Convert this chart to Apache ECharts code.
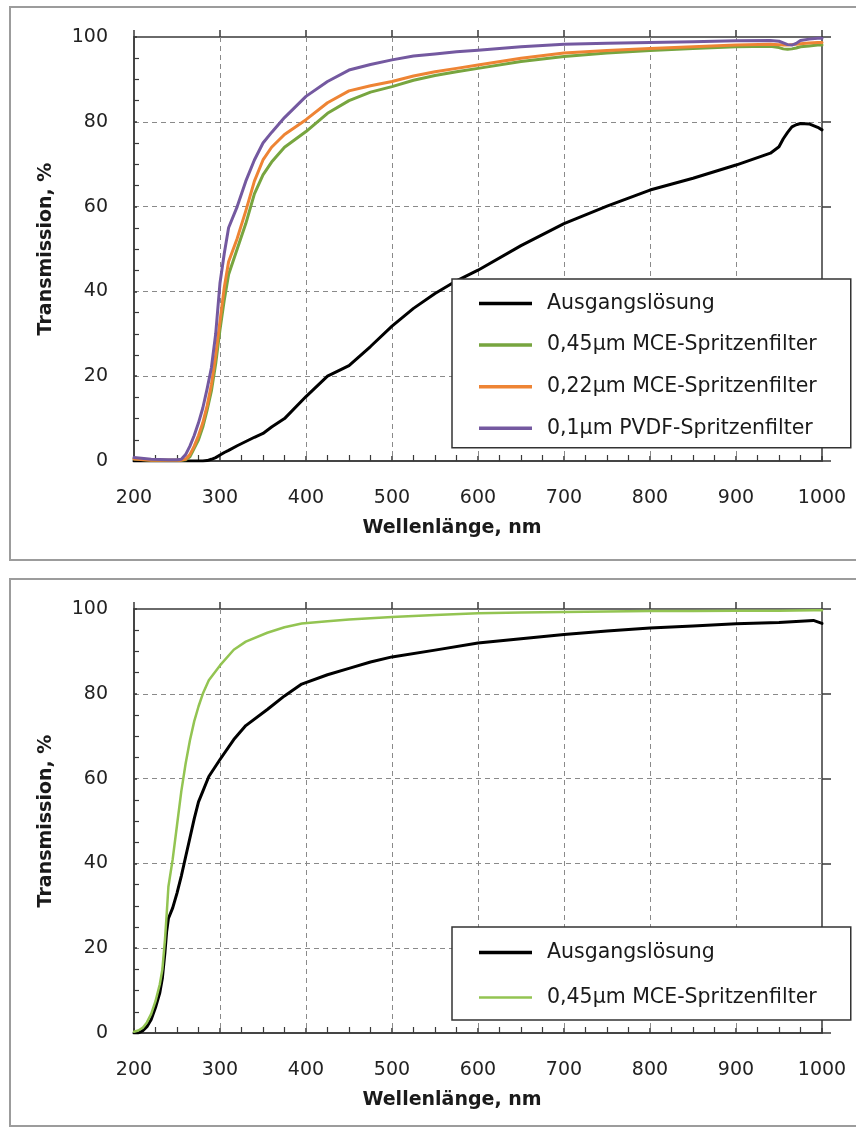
<!DOCTYPE html>
<html>
<head>
<meta charset="utf-8">
<script src="https://cdn.jsdelivr.net/npm/echarts@6/dist/echarts.min.js"></script>
<style>
  html, body { margin: 0; padding: 0; background: #fff; }
  #chart { width: 856px; height: 1128px; }
</style>
</head>
<body>
<div id="chart"></div>
<script>
// Upper panel: transmission spectra of the stock solution and the three filtrates
const topWavelength = [200, 220, 240, 250, 255, 260, 265, 270, 275, 280, 285, 290, 295, 300, 305,
  310, 320, 330, 340, 350, 360, 375, 400, 425, 450, 475, 500, 525, 550, 575,
  600, 650, 700, 750, 800, 850, 900, 940, 950, 955, 960, 965, 970, 975, 985, 995, 1000];
const topAusgang = [0, 0, 0, 0, 0, 0, 0, 0, 0, 0, 0.1, 0.4, 0.8, 1.4, 2,
  2.5, 3.6, 4.6, 5.6, 6.5, 8, 10, 15.2, 20, 22.5, 27, 31.8, 36, 39.5, 42.5,
  45, 50.8, 56, 60.1, 63.9, 66.7, 69.8, 72.6, 74.1, 76, 77.5, 78.8, 79.3, 79.6, 79.5, 78.7, 78.1];
const topMce045 = [0.5, 0.2, 0.2, 0.2, 0.2, 0.3, 1, 3, 5, 8, 12, 16.5, 23, 31, 38,
  44, 50, 56, 63, 67.5, 70.5, 74, 77.7, 82, 85, 87, 88.3, 89.8, 90.9, 91.8,
  92.6, 94.2, 95.4, 96.2, 96.8, 97.3, 97.7, 97.8, 97.5, 97.2, 97.1, 97.2, 97.4, 97.7, 97.9, 98.1, 98.1];
const topMce022 = [0.5, 0.2, 0.2, 0.2, 0.2, 0.4, 1.5, 3.5, 6, 9, 13, 18, 25, 33, 41,
  47, 52.5, 59, 66, 71, 74, 77, 80.5, 84.5, 87.3, 88.5, 89.5, 90.8, 91.8, 92.6,
  93.4, 95, 96.2, 96.8, 97.3, 97.7, 98.1, 98.3, 98.2, 98.1, 98.1, 98.2, 98.3, 98.4, 98.6, 98.7, 98.7];
const topPvdf01 = [0.8, 0.4, 0.3, 0.3, 0.4, 1.5, 3.5, 6, 9, 12.5, 17, 22, 30, 42, 49,
  55, 60, 66, 71, 75, 77.5, 81, 86, 89.5, 92.2, 93.5, 94.6, 95.5, 96, 96.5,
  96.9, 97.7, 98.3, 98.5, 98.7, 98.9, 99.1, 99.2, 99, 98.6, 98.2, 98.1, 98.5, 99.2, 99.5, 99.7, 99.7];

// Lower panel: stock solution vs. 0.45 µm MCE filtrate
const botWavelength = [200, 205, 210, 215, 220, 225, 230, 233, 236, 238, 240, 245, 250, 255, 260,
  265, 270, 275, 280, 287, 300, 316, 330, 355, 375, 395, 425, 450, 475, 500,
  550, 600, 650, 700, 750, 800, 850, 900, 950, 990, 1000];
const botAusgang = [0, 0, 0.5, 1.5, 3.2, 6, 9.5, 13, 19, 24, 27, 29.5, 33, 37, 41.5,
  46, 50.5, 54.5, 57, 60.5, 64.5, 69.2, 72.5, 76.3, 79.5, 82.3, 84.5, 86, 87.5, 88.7,
  90.3, 92, 93, 94, 94.8, 95.5, 96, 96.5, 96.8, 97.3, 96.6];
const botMce045 = [0.3, 0.6, 1.2, 2.5, 4.5, 7.5, 11.5, 15, 22, 28, 34.5, 41, 49, 57, 63.5,
  69, 73.5, 77, 80, 83.2, 86.7, 90.4, 92.3, 94.4, 95.7, 96.6, 97.1, 97.5, 97.8, 98.1,
  98.6, 99, 99.2, 99.3, 99.4, 99.5, 99.5, 99.6, 99.6, 99.7, 99.7];

const NAME_STOCK = 'Ausgangslösung';
const NAME_045 = '0,45µm MCE-Spritzenfilter';
const NAME_022 = '0,22µm MCE-Spritzenfilter';
const NAME_01 = '0,1µm PVDF-Spritzenfilter';

const COLORS = {
  stock: '#000000',
  mce045: '#77a53f',
  mce022: '#ee8434',
  pvdf01: '#7459a0',
  mce045Light: '#93c452'
};

const FONT = 'DejaVu Sans';
const AXIS_COLOR = '#3a3a3a';

// legend swatches: flat bars whose aspect ratio is kept inside the item box
const ICON_THICK = 'path://M0,0H53V3.5H0Z';
const ICON_THIN = 'path://M0,0H53V2.5H0Z';

const pairs = (xs, ys) => xs.map((x, i) => [x, ys[i]]);

function mainX(gridIndex) {
  return {
    type: 'value', gridIndex, min: 200, max: 1000, interval: 100,
    name: 'Wellenlänge, nm', nameLocation: 'middle', nameGap: 58,
    nameTextStyle: { fontFamily: FONT, fontWeight: 'bold', fontSize: 19, color: '#1a1a1a', padding: [0, 52, 0, 0] },
    axisLine: { show: true, onZero: false, lineStyle: { color: AXIS_COLOR, width: 1.5 } },
    axisTick: { show: true, inside: true, length: 5, lineStyle: { color: AXIS_COLOR, width: 1.5 } },
    minorTick: { show: true, splitNumber: 4, length: 6, lineStyle: { color: AXIS_COLOR, width: 1.2 } },
    axisLabel: { fontFamily: FONT, fontSize: 19, color: '#222', margin: 28, formatter: v => String(v) },
    splitLine: { show: true, showMinLine: false, showMaxLine: false,
      lineStyle: { color: '#8a8a8a', width: 1, type: [5, 4] } }
  };
}
function tickX(gridIndex) {
  return {
    type: 'value', gridIndex, min: 200, max: 1000, interval: 100,
    axisLine: { show: false, onZero: false },
    axisTick: { show: true, inside: false, length: 7, lineStyle: { color: AXIS_COLOR, width: 1.5 } },
    axisLabel: { show: false }, splitLine: { show: false }
  };
}
function mainY(gridIndex) {
  return {
    type: 'value', gridIndex, min: 0, max: 100, interval: 20,
    name: 'Transmission, %', nameLocation: 'middle', nameGap: 78, nameRotate: 90,
    nameTextStyle: { fontFamily: FONT, fontWeight: 'bold', fontSize: 19, color: '#1a1a1a' },
    axisLine: { show: true, onZero: false, lineStyle: { color: AXIS_COLOR, width: 1.5 } },
    axisTick: { show: true, inside: true, length: 3, lineStyle: { color: AXIS_COLOR, width: 1.5 } },
    minorTick: { show: true, splitNumber: 4, length: 5, lineStyle: { color: AXIS_COLOR, width: 1.2 } },
    axisLabel: { fontFamily: FONT, fontSize: 19, color: '#222', margin: 26 },
    splitLine: { show: true, showMinLine: false, showMaxLine: false,
      lineStyle: { color: '#8a8a8a', width: 1, type: [5, 4] } }
  };
}
function tickY(gridIndex) {
  return {
    type: 'value', gridIndex, min: 0, max: 100, interval: 20,
    axisLine: { show: false, onZero: false },
    axisTick: { show: true, inside: false, length: 9, lineStyle: { color: AXIS_COLOR, width: 1.5 } },
    axisLabel: { show: false }, splitLine: { show: false }
  };
}

function lineSeries(name, xIndex, yIndex, data, color, width) {
  return {
    type: 'line', name, xAxisIndex: xIndex, yAxisIndex: yIndex, data,
    symbol: 'none', smooth: false, silent: true,
    lineStyle: { color, width, join: 'round', cap: 'round' },
    itemStyle: { color }
  };
}

const legendText = { fontFamily: FONT, fontSize: 20.5, color: '#1a1a1a', width: 265, padding: [0, 0, 0, 10], lineHeight: 20 };

function legendItem(name, color, icon) {
  return { name, icon, itemStyle: { color, borderWidth: 0 } };
}

const chart = echarts.init(document.getElementById('chart'), null, { renderer: 'canvas' });
chart.setOption({
  animation: false,
  backgroundColor: '#ffffff',
  graphic: [
    { type: 'rect', shape: { x: 10, y: 7, width: 880, height: 553 }, style: { fill: 'none', stroke: '#9c9c9c', lineWidth: 2 }, z: -10 },
    { type: 'rect', shape: { x: 10, y: 579, width: 880, height: 547 }, style: { fill: 'none', stroke: '#9c9c9c', lineWidth: 2 }, z: -10 }
  ],
  grid: [
    { left: 134, top: 37, width: 688, height: 424, show: true, borderColor: AXIS_COLOR, borderWidth: 1.5, backgroundColor: 'transparent' },
    { left: 134, top: 609, width: 688, height: 424, show: true, borderColor: AXIS_COLOR, borderWidth: 1.5, backgroundColor: 'transparent' }
  ],
  xAxis: [mainX(0), tickX(0), mainX(1), tickX(1)],
  yAxis: [mainY(0), tickY(0), mainY(1), tickY(1)],
  legend: [
    {
      left: 452, top: 279, orient: 'vertical', selectedMode: false,
      padding: [14, 34, 9, 27], itemGap: 20.6, itemWidth: 53, itemHeight: 14,
      backgroundColor: '#fff', borderColor: '#333', borderWidth: 1.5,
      textStyle: legendText,
      data: [
        legendItem(NAME_STOCK, COLORS.stock, ICON_THICK),
        legendItem(NAME_045, COLORS.mce045, ICON_THICK),
        legendItem(NAME_022, COLORS.mce022, ICON_THICK),
        legendItem(NAME_01, COLORS.pvdf01, ICON_THICK)
      ]
    },
    {
      left: 452, top: 927, orient: 'vertical', selectedMode: false,
      padding: [15, 34, 12, 27], itemGap: 24, itemWidth: 53, itemHeight: 14,
      backgroundColor: '#fff', borderColor: '#333', borderWidth: 1.5,
      textStyle: legendText,
      data: [
        legendItem(NAME_STOCK, COLORS.stock, ICON_THICK),
        legendItem(NAME_045, COLORS.mce045Light, ICON_THIN)
      ]
    }
  ],
  series: [
    lineSeries(NAME_STOCK, 0, 0, pairs(topWavelength, topAusgang), COLORS.stock, 3),
    lineSeries(NAME_045, 0, 0, pairs(topWavelength, topMce045), COLORS.mce045, 3),
    lineSeries(NAME_022, 0, 0, pairs(topWavelength, topMce022), COLORS.mce022, 3),
    lineSeries(NAME_01, 0, 0, pairs(topWavelength, topPvdf01), COLORS.pvdf01, 3),
    lineSeries(NAME_STOCK, 2, 2, pairs(botWavelength, botAusgang), COLORS.stock, 3),
    lineSeries(NAME_045, 2, 2, pairs(botWavelength, botMce045), COLORS.mce045Light, 2.5)
  ]
});
</script>
</body>
</html>
